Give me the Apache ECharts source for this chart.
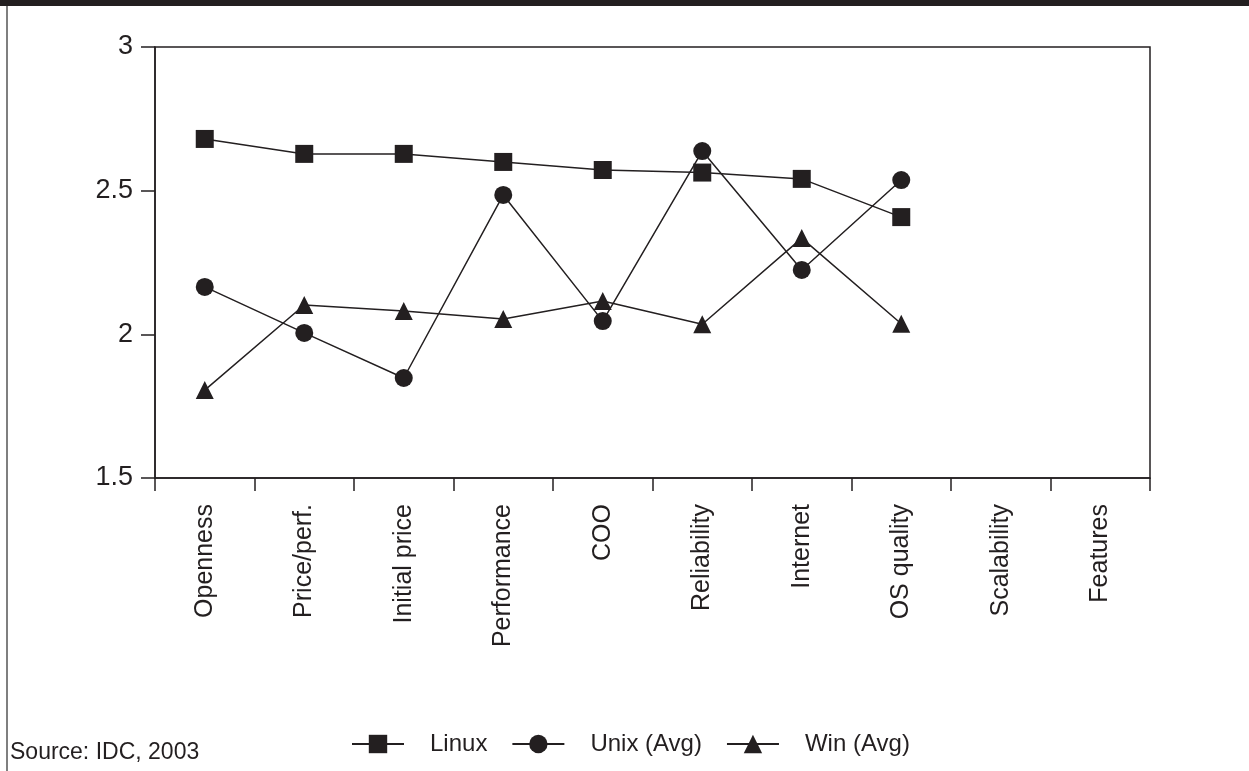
<!DOCTYPE html>
<html>
<head>
<meta charset="utf-8">
<title>OS ratings</title>
<script src="https://cdn.jsdelivr.net/npm/echarts@6/dist/echarts.min.js"></script>
<style>
    html, body { margin: 0; padding: 0; background: #fff; }
    #chart { width: 1249px; height: 771px; }
</style>
</head>
<body>
<div id="chart"></div>
<script>
// 类别与数据
const categories = ['Openness', 'Price/perf.', 'Initial price', 'Performance', 'COO',
    'Reliability', 'Internet', 'OS quality', 'Scalability', 'Features'];
const linuxValues = [2.68, 2.628, 2.628, 2.60, 2.572, 2.563, 2.541, 2.408, null, null];
const unixValues = [2.165, 2.005, 1.848, 2.485, 2.046, 2.638, 2.224, 2.537, null, null];
const winValues = [1.806, 2.102, 2.081, 2.053, 2.116, 2.035, 2.335, 2.037, null, null];
const yTicks = [1.5, 2, 2.5, 3];

const INK = '#231f20';
const FONT = '"Liberation Sans", Arial, sans-serif';

function makeSeries(name, data, symbol, size) {
    return {
        name: name,
        type: 'line',
        data: data,
        symbol: symbol,
        symbolSize: size,
        showAllSymbol: true,
        connectNulls: false,
        lineStyle: { color: INK, width: 1.5 },
        itemStyle: { color: INK },
        emphasis: { disabled: true }
    };
}

const chart = echarts.init(document.getElementById('chart'));

chart.setOption({
    animation: false,
    textStyle: { fontFamily: FONT, color: INK },
    grid: {
        left: 155, right: 99, top: 47, bottom: 293,
        show: true,
        borderColor: INK,
        borderWidth: 1.5,
        backgroundColor: 'transparent'
    },
    legend: {
        left: 346,
        top: 727,
        itemWidth: 52,
        itemHeight: 23,
        itemGap: 24,
        textStyle: { fontSize: 24, color: INK, fontFamily: FONT, padding: [0, 0, 0, 21] },
        data: ['Linux', 'Unix (Avg)', 'Win (Avg)']
    },
    xAxis: {
        type: 'category',
        data: categories,
        boundaryGap: true,
        axisLine: { lineStyle: { color: INK, width: 1.5 } },
        axisTick: { show: true, interval: 0, length: 13, lineStyle: { color: INK, width: 1.5 } },
        axisLabel: {
            interval: 0,
            rotate: 90,
            margin: 26,
            fontSize: 25,
            color: INK,
            fontFamily: FONT
        },
        splitLine: { show: false }
    },
    yAxis: {
        type: 'value',
        min: 1.5,
        max: 3,
        interval: 0.5,
        axisLine: { show: true, lineStyle: { color: INK, width: 1.5 } },
        axisTick: { show: true, length: 14, lineStyle: { color: INK, width: 1.5 } },
        axisLabel: {
            fontSize: 27,
            color: INK,
            margin: 22,
            fontFamily: FONT,
            formatter: v => yTicks.includes(v) ? String(v) : ''
        },
        splitLine: { show: false }
    },
    series: [
        makeSeries('Linux', linuxValues, 'rect', 18),
        makeSeries('Unix (Avg)', unixValues, 'circle', 18),
        makeSeries('Win (Avg)', winValues, 'triangle', 18)
    ],
    graphic: [
        {
            type: 'rect',
            shape: { x: 0, y: 0, width: 1249, height: 6 },
            style: { fill: INK },
            silent: true
        },
        {
            type: 'line',
            shape: { x1: 7, y1: 6, x2: 7, y2: 771 },
            style: { stroke: '#555', lineWidth: 1.5 },
            silent: true
        },
        {
            type: 'text',
            left: 10,
            top: 741,
            style: { text: 'Source: IDC, 2003', font: '23px ' + FONT, fill: INK },
            silent: true
        }
    ]
});
</script>
</body>
</html>
